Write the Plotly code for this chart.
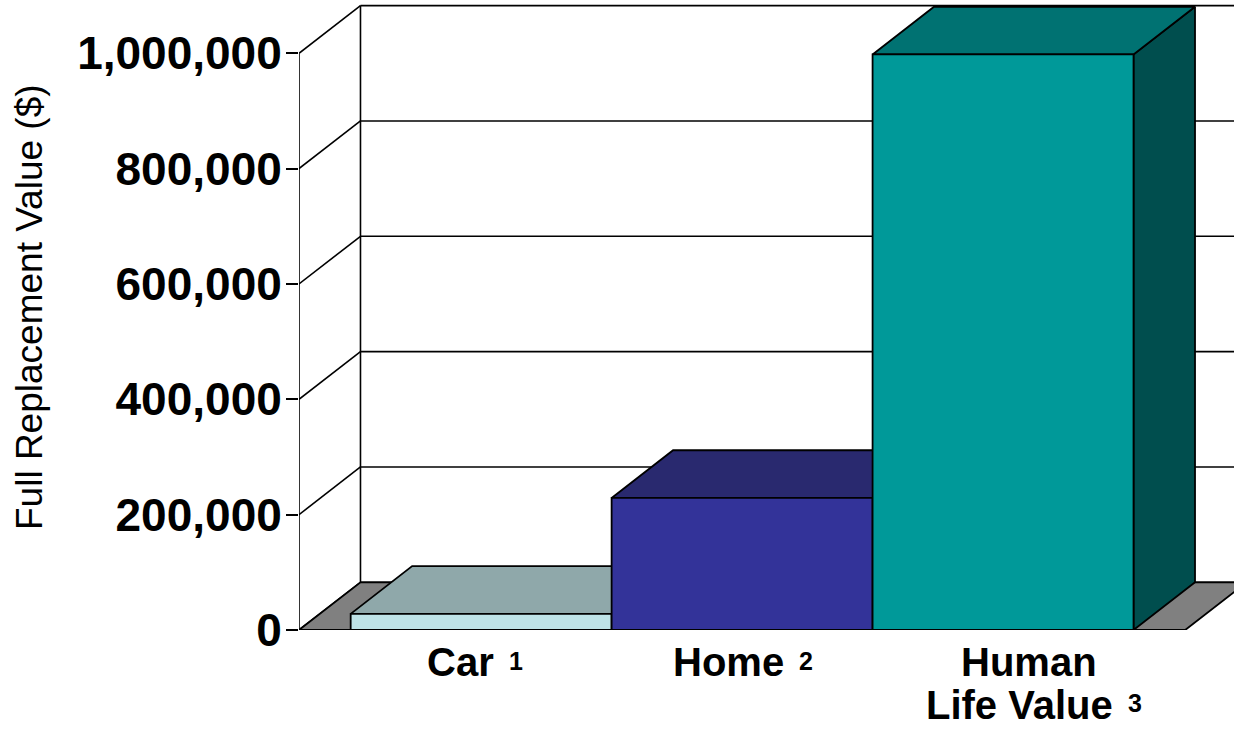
import plotly.graph_objects as go

# ---------------- data ----------------
categories = ["Car", "Home", "Human\nLife Value"]
footnotes = ["1", "2", "3"]
values = [28000, 229000, 998000]
tick_values = [0, 200000, 400000, 600000, 800000, 1000000]
tick_labels = [f"{v:,}" for v in tick_values]
y_title = "Full Replacement Value ($)"

# ---------------- style ----------------
front_colors = ["#BEE3E7", "#333399", "#009999"]
top_colors = ["#8FA8AA", "#29296F", "#007272"]
side_colors = ["#5E7C7E", "#1E1E55", "#004E4E"]
floor_color = "#808080"
FONT = "Arial, Liberation Sans, sans-serif"
LABEL_SIZE = 40
FOOT_SIZE = 25

BAR_HALF = 0.5       # half bar width (category units)
GAP = 0.198          # floor overhang beyond outer bars
DX = 0.2356          # depth offset, category units
DY = 82700           # depth offset, value units
X_RANGE = [-0.5 - GAP, 2.885]
Y_RANGE = [0, 1092400]
label_center_shift = [-5, 0, 26]     # px, centre of label block vs bar centre
label_end_shift = [15, 44, 112]      # px, right end of last line vs bar centre
LINE_STEP = 42.7
FOOT_GAP = 11

x_left = -BAR_HALF - GAP
x_right = (len(categories) - 1) + BAR_HALF + GAP
ymax = max(tick_values)

fig = go.Figure()

# walls: back gridlines, left wall diagonals, back vertical, front axis
wx, wy = [], []
for v in tick_values:
    wx += [x_left + DX, x_right + DX, None]
    wy += [v + DY, v + DY, None]
    wx += [x_left, x_left + DX, None]
    wy += [v, v + DY, None]
wx += [x_left + DX, x_left + DX, None, x_left, x_left]
wy += [DY, ymax + DY, None, 0, ymax]
fig.add_trace(go.Scatter(x=wx, y=wy, mode="lines",
                         line=dict(color="black", width=1.6),
                         hoverinfo="skip", showlegend=False))

# floor
fig.add_trace(go.Scatter(
    x=[x_left, x_right, x_right + DX, x_left + DX, x_left],
    y=[0, 0, DY, DY, 0],
    mode="lines", fill="toself", fillcolor=floor_color,
    line=dict(color="black", width=1.8), hoverinfo="skip", showlegend=False))


def poly(xs, ys, color):
    fig.add_trace(go.Scatter(
        x=xs + [xs[0]], y=ys + [ys[0]], mode="lines", fill="toself",
        fillcolor=color, line=dict(color="black", width=1.8),
        hoverinfo="skip", showlegend=False))


for i, v in enumerate(values):
    l, r = i - BAR_HALF, i + BAR_HALF
    poly([r, r + DX, r + DX, r], [0, DY, v + DY, v], side_colors[i])      # side
    poly([l, r, r + DX, l + DX], [v, v, v + DY, v + DY], top_colors[i])   # top
    poly([l, r, r, l], [0, 0, v, v], front_colors[i])                     # front

# category labels with raised footnote numbers
annotations = []
lab_font = dict(family=FONT, size=LABEL_SIZE, color="black", weight="bold")
foot_font = dict(family=FONT, size=FOOT_SIZE, color="black", weight="bold")
for i, (cat, fn) in enumerate(zip(categories, footnotes)):
    lines = cat.split("\n")
    for j, line in enumerate(lines):
        ysh = -8 - LINE_STEP * j
        common = dict(x=i, xref="x", y=0, yref="paper", showarrow=False,
                      yanchor="top")
        if j < len(lines) - 1:
            annotations.append(dict(common, text=line, font=lab_font,
                                    xanchor="center",
                                    xshift=label_center_shift[i], yshift=ysh))
        else:
            annotations.append(dict(common, text=line, font=lab_font,
                                    xanchor="right",
                                    xshift=label_end_shift[i], yshift=ysh))
            annotations.append(dict(common, text=fn, font=foot_font,
                                    xanchor="left",
                                    xshift=label_end_shift[i] + FOOT_GAP,
                                    yshift=ysh - 6.7))

# y-axis title
annotations.append(dict(
    x=0, xref="paper", y=0.5, yref="paper", text=y_title, showarrow=False,
    textangle=-90, xanchor="center", yanchor="middle", xshift=-270, yshift=8,
    font=dict(family=FONT, size=37, color="black")))

fig.update_layout(
    width=1234, height=729,
    margin=dict(l=299, r=0, t=0, b=99, pad=0),
    paper_bgcolor="white", plot_bgcolor="white",
    showlegend=False,
    annotations=annotations,
    xaxis=dict(range=X_RANGE, visible=False, fixedrange=True),
    yaxis=dict(range=Y_RANGE, tickvals=tick_values, ticktext=tick_labels,
               ticks="outside", ticklen=12, tickwidth=1.6, tickcolor="black",
               ticklabelstandoff=-5,
               showgrid=False, zeroline=False, showline=False,
               tickfont=dict(family=FONT, size=46, color="black",
                             weight="bold"),
               fixedrange=True),
)

fig.write_html("out.html")
